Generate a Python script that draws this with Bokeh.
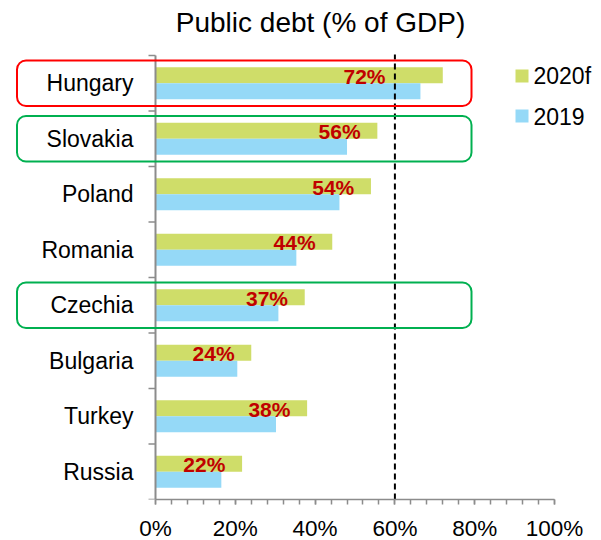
from bokeh.plotting import figure
from bokeh.models import Range1d, FixedTicker, BoxAnnotation, ColumnDataSource
from bokeh.core.properties import value
from bokeh.embed import file_html
from bokeh.resources import INLINE

# ---------------- data ----------------
categories = ["Hungary", "Slovakia", "Poland", "Romania", "Czechia", "Bulgaria", "Turkey", "Russia"]
debt_2020f = [72.0, 55.6, 54.0, 44.3, 37.4, 24.0, 38.0, 21.7]
debt_2019 = [66.4, 48.0, 46.1, 35.3, 30.8, 20.5, 30.2, 16.5]
value_labels = ["72%", "56%", "54%", "44%", "37%", "24%", "38%", "22%"]
series_names = ["2020f", "2019"]
tick_values = [0, 20, 40, 60, 80, 100]
tick_labels = ["0%", "20%", "40%", "60%", "80%", "100%"]
minor_tick_values = list(range(0, 101, 4))
threshold = 60
highlighted = {"Hungary": "#ff0000", "Slovakia": "#00b050", "Czechia": "#00b050"}
title_text = "Public debt (% of GDP)"

# ---------------- styles ----------------
FONT = "Liberation Sans"
C2020 = "#cfdd69"
C2019 = "#95d9f7"
LABEL_RED = "#c00000"
AXIS_GREY = "#8c8c8c"

# screenshot-pixel geometry helpers
PAGE_OFF = 0.0            # observed offset of the figure in the screenshot
X0, SX = 155.0, 3.99      # screenshot x of 0%, px per 1%
YB, SY = 499.0, 55.5      # screenshot y of bottom axis, px per category band
def dx(px):
    return (px - X0) / SX
def dy(py):
    return (YB - py) / SY

n = len(categories)
yc = [n - 1 - i + 0.5 for i in range(n)]   # band centres, Hungary on top
BAR_H = 0.288

p = figure(frame_width=592, frame_height=int(YB - PAGE_OFF),
           x_range=Range1d(dx(PAGE_OFF), dx(PAGE_OFF + 592)), y_range=Range1d(0, dy(PAGE_OFF)),
           output_backend="svg", toolbar_location=None,
           min_border_left=0, min_border_right=0, min_border_top=0, min_border_bottom=0)
p.outline_line_color = None
p.xgrid.visible = False
p.ygrid.visible = False
p.yaxis.visible = False
p.background_fill_color = "white"
p.border_fill_color = "white"

# x axis
xa = p.xaxis[0]
xa.bounds = (0, 100)
xa.ticker = FixedTicker(ticks=tick_values, minor_ticks=minor_tick_values)
xa.major_label_overrides = {t: l for t, l in zip(tick_values, tick_labels)}
xa.axis_line_color = AXIS_GREY
xa.axis_line_width = 1.5
xa.major_tick_line_color = AXIS_GREY
xa.minor_tick_line_color = AXIS_GREY
xa.major_tick_line_width = 1.5
xa.minor_tick_line_width = 1.5
xa.major_tick_in = 0
xa.major_tick_out = 5
xa.minor_tick_in = 0
xa.minor_tick_out = 5
xa.major_label_text_font = FONT
xa.major_label_text_font_size = "22.5px"
xa.major_label_text_color = "black"
xa.major_label_standoff = 11

# bars
src = ColumnDataSource(dict(
    cat=categories, v20=debt_2020f, v19=debt_2019, lab=value_labels,
    y20=[y + BAR_H / 2 for y in yc], y19=[y - BAR_H / 2 for y in yc],
    lx=[min(v - dx(155 + 16.7), dx(385)) for v in debt_2020f],
    ly=[y + BAR_H / 2 - 0.02 for y in yc], yc=yc,
))
p.hbar(y="y20", right="v20", left=0, height=BAR_H, source=src,
       fill_color=C2020, line_color=None)
p.hbar(y="y19", right="v19", left=0, height=BAR_H, source=src,
       fill_color=C2019, line_color=None)

# y axis line + ticks
p.segment(x0=[0], y0=[0], x1=[0], y1=[n], line_color=AXIS_GREY, line_width=2)
p.segment(x0=[dx(148)] * (n + 1), y0=list(range(n + 1)), x1=[0] * (n + 1), y1=list(range(n + 1)),
          line_color=AXIS_GREY, line_width=1.5)

# threshold line
p.segment(x0=[threshold], y0=[0], x1=[threshold], y1=[dy(54)],
          line_color="black", line_width=2, line_dash="6 4")

# value labels
p.text(x="lx", y="ly", text="lab", source=src, text_align="right", text_baseline="middle",
       text_font=value(FONT), text_font_style="bold", text_font_size=value("21px"),
       text_color=LABEL_RED)

# category labels
p.text(x=dx(133), y="yc", text="cat", source=src, text_align="right", text_baseline="middle",
       text_font=value(FONT), text_font_size=value("23px"), text_color="black")

# highlight boxes
for cat, col in highlighted.items():
    k = categories.index(cat)
    p.add_layout(BoxAnnotation(left=dx(16.5), right=dx(471), bottom=yc[k] - 0.41, top=yc[k] + 0.41,
                               fill_alpha=0, fill_color=None, line_color=col, line_alpha=1.0,
                               line_width=2, border_radius=9, level="overlay"))

# legend (manual)
leg_y = [dy(75.5), dy(115.5)]
p.rect(x=[dx(521.5)] * 2, y=leg_y, width=13, height=13, width_units="screen", height_units="screen",
       fill_color=[C2020, C2019], line_color=None)
p.text(x=[dx(533)] * 2, y=leg_y, text=series_names, text_align="left", text_baseline="middle",
       text_font=value(FONT), text_font_size=value("23px"), text_color="black")

# title
p.text(x=[dx(320)], y=[dy(22)], text=[title_text], text_align="center", text_baseline="middle",
       text_font=value(FONT), text_font_size=value("28px"), text_color="black")

open("out.html", "w").write(file_html(p, INLINE))
